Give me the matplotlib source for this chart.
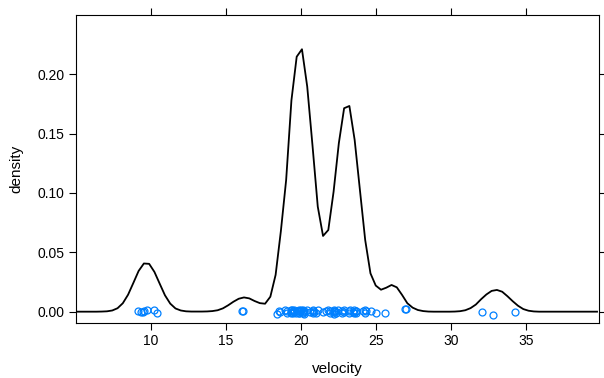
import numpy as np
import matplotlib
matplotlib.use("Agg")
import matplotlib.pyplot as plt

plt.rcParams["font.family"] = ["Liberation Sans", "DejaVu Sans"]

# galaxy velocities (km/sec / 1000)
velocity = [
    9.172, 9.350, 9.483, 9.558, 9.775, 10.227, 10.406, 16.084, 16.170, 18.419,
    18.552, 18.600, 18.927, 19.052, 19.070, 19.330, 19.343, 19.349, 19.440, 19.473,
    19.529, 19.541, 19.547, 19.663, 19.846, 19.856, 19.863, 19.914, 19.918, 19.973,
    19.989, 20.166, 20.175, 20.179, 20.196, 20.215, 20.221, 20.415, 20.629, 20.795,
    20.821, 20.846, 20.875, 20.986, 21.137, 21.492, 21.701, 21.814, 21.921, 21.960,
    22.185, 22.209, 22.242, 22.249, 22.314, 22.374, 22.495, 22.746, 22.747, 22.888,
    22.914, 23.206, 23.241, 23.263, 23.484, 23.538, 23.542, 23.666, 23.706, 23.711,
    24.129, 24.285, 24.289, 24.366, 24.717, 24.990, 25.633, 26.960, 26.995, 32.065,
    32.789, 34.279,
]

# vertical jitter of the rug points (density units)
point_jitter = [
    0.0002, 0.0001, -0.0004, 0.0003, 0.0012, 0.0011, -0.0012, 0.0008, 0.0002, -0.0020,
    0.0009, -0.0006, 0.0014, -0.0011, 0.0005, 0.0017, -0.0008, 0.0000, 0.0010, -0.0015,
    0.0006, -0.0003, 0.0013, -0.0010, 0.0004, 0.0016, -0.0007, 0.0009, -0.0013, 0.0002,
    0.0011, -0.0005, 0.0015, -0.0009, 0.0003, 0.0007, -0.0016, 0.0012, -0.0004, 0.0008,
    -0.0011, 0.0014, 0.0001, -0.0014, 0.0010, -0.0002, 0.0006, 0.0017, -0.0009, 0.0004,
    -0.0017, 0.0009, 0.0013, -0.0006, 0.0002, -0.0012, 0.0016, 0.0005, -0.0008, 0.0011,
    -0.0003, 0.0007, -0.0015, 0.0012, 0.0001, 0.0015, -0.0010, 0.0008, 0.0003, -0.0013,
    0.0006, -0.0007, 0.0014, 0.0002, 0.0009, -0.0012, -0.0014, 0.0019, 0.0022, -0.0005,
    -0.0024, -0.0004,
]

# density estimate, 100 points across the velocity range
grid_lo, grid_hi = 4.98, 39.75
density = [
    0.0000, 0.0000, 0.0000, 0.0000, 0.0000, 0.0001, 0.0003, 0.0010, 0.0029, 0.0071,
    0.0143, 0.0242, 0.0343, 0.0406, 0.0403, 0.0335, 0.0236, 0.0138, 0.0068, 0.0027,
    0.0010, 0.0003, 0.0001, 0.0001, 0.0001, 0.0002, 0.0005, 0.0012, 0.0028, 0.0054,
    0.0084, 0.0109, 0.0120, 0.0112, 0.0090, 0.0072, 0.0067, 0.0126, 0.0310, 0.0680,
    0.1110, 0.1780, 0.2148, 0.2211, 0.1896, 0.1400, 0.0885, 0.0638, 0.0688, 0.1010,
    0.1420, 0.1714, 0.1733, 0.1447, 0.1025, 0.0604, 0.0323, 0.0220, 0.0185, 0.0202,
    0.0225, 0.0205, 0.0141, 0.0071, 0.0034, 0.0014, 0.0005, 0.0001, 0.0000, 0.0000,
    0.0000, 0.0000, 0.0001, 0.0004, 0.0012, 0.0030, 0.0060, 0.0105, 0.0145, 0.0175,
    0.0183, 0.0168, 0.0130, 0.0088, 0.0050, 0.0022, 0.0008, 0.0002, 0.0000, 0.0000,
    0.0000, 0.0000, 0.0000, 0.0000, 0.0000, 0.0000, 0.0000, 0.0000, 0.0000, 0.0000,
]

x_ticks = [10, 15, 20, 25, 30, 35]
y_ticks = [0.00, 0.05, 0.10, 0.15, 0.20]

fig = plt.figure(figsize=(6.04, 3.78), dpi=100)
ax = fig.add_axes([0.1258, 0.1447, 0.8664, 0.8164])

grid = np.linspace(grid_lo, grid_hi, len(density))
ax.plot(grid, density, color="black", lw=1.3, clip_on=True)
ax.plot(velocity, point_jitter, linestyle="none", marker="o", markersize=5,
        markerfacecolor="none", markeredgecolor="#0080ff", markeredgewidth=0.9)

ax.set_xlim(5.02, 39.9)
ax.set_ylim(-0.0098, 0.2502)
ax.set_xticks(x_ticks)
ax.set_yticks(y_ticks)
ax.set_yticklabels([f"{v:.2f}" for v in y_ticks])
ax.tick_params(direction="out", length=5, width=0.8, labelsize=10, pad=3,
               top=True, right=True, labeltop=False, labelright=False)
for sp in ax.spines.values():
    sp.set_linewidth(0.8)
    sp.set_color("black")

ax.set_xlabel("velocity", fontsize=11, labelpad=10)
ax.set_ylabel("density", fontsize=11, labelpad=10)

fig.savefig("out.png", dpi=100)
